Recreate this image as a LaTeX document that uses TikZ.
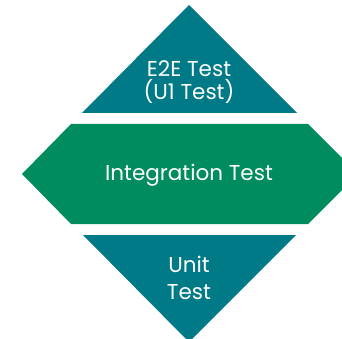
\documentclass[tikz,border=0pt]{standalone}
\usepackage{fontspec}
\setmainfont{Poppins}
\definecolor{tealc}{HTML}{007A87}
\definecolor{greenc}{HTML}{008C5F}
\begin{document}
\begin{tikzpicture}[x=1pt,y=-1pt,
  lbl/.style={text=white,font=\fontsize{21.5}{26}\selectfont,align=center,inner sep=0pt}]
\useasboundingbox (0,0) rectangle (342,339);
\begin{scope}
\clip (0,0) rectangle (342,339);
\fill[tealc] (189,5) -- (297,113) -- (82,113) -- cycle;
\fill[greenc] (71,124) -- (308,124) -- (358,174) -- (308,224) -- (71,224) -- (22,174) -- cycle;
\fill[tealc] (83,235) -- (296,235) -- (189,342) -- cycle;
\end{scope}
\node[lbl,anchor=base] (e2e) at (189,77) {E2E Test};
\node[lbl,anchor=base] (ui) at (189,100) {(U1 Test)};
\node[lbl,anchor=base] (int) at (189,180) {Integration Test};
\node[lbl,anchor=base] (unit) at (189,272) {Unit};
\node[lbl,anchor=base] (ut) at (189,299) {Test};
\end{tikzpicture}
\end{document}
